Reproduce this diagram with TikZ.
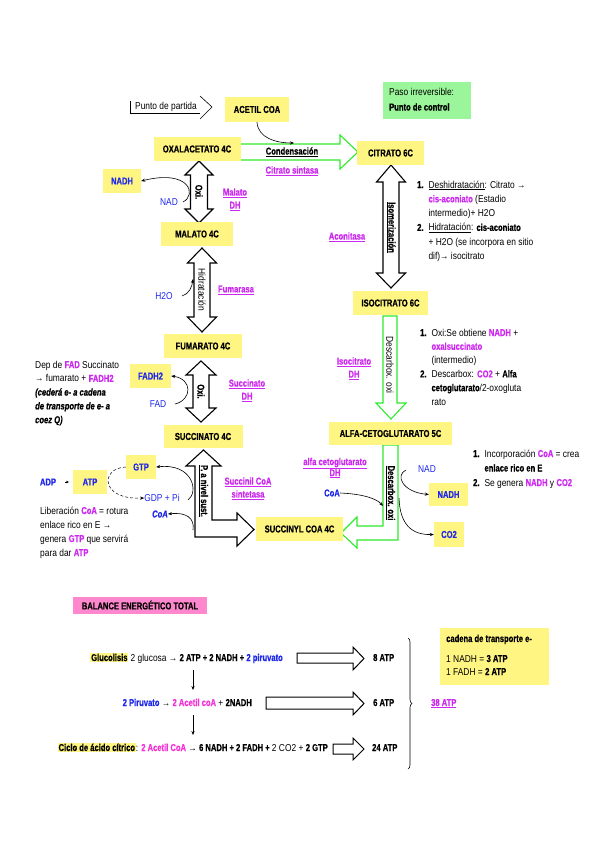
\documentclass[tikz,border=0pt]{standalone}
\usepackage{fontspec}
\setmainfont{Liberation Sans}[FakeStretch=0.84, BoldFeatures={FakeStretch=0.76, FakeBold=0.6}, BoldItalicFeatures={FakeStretch=0.76, FakeBold=0.6}]
\usetikzlibrary{arrows.meta,decorations.pathreplacing}
\definecolor{ylw}{RGB}{255,245,130}
\definecolor{grnbox}{RGB}{155,245,155}
\definecolor{grn}{RGB}{45,235,45}
\definecolor{mag}{RGB}{205,40,240}
\definecolor{magb}{RGB}{245,50,215}
\definecolor{blu}{RGB}{30,40,235}
\definecolor{pnk}{RGB}{255,135,205}
\newcommand\mg[1]{\textcolor{mag}{\bfseries #1}}
\newcommand\mgb[1]{\textcolor{magb}{\bfseries #1}}
\newcommand\mgu[1]{\textcolor{mag}{\bfseries\underline{#1}}}
\setlength{\fboxsep}{0.8pt}
\begin{document}
\begin{tikzpicture}[x=1pt,y=-1pt, font=\fontsize{10}{12}\selectfont,
 ybox/.style={fill=ylw, inner sep=0pt, font=\fontsize{10}{12}\selectfont\bfseries},
 bbox/.style={ybox, text=blu},
 lbl/.style={inner sep=0pt},
 two/.style={inner sep=0pt, align=center, font=\fontsize{10}{13}\selectfont},
 blk/.style={inner sep=0pt, anchor=base west},
 fat/.style={draw=black, line width=1.1pt, fill=white, line join=miter},
 gfat/.style={draw=grn, line width=1.1pt, fill=white, line join=miter},
 cur/.style={-{Stealth[length=4pt,width=3.2pt]}, line width=0.6pt},
]
\useasboundingbox[fill=white] (0,0) rectangle (600,848);

% ---------- fat arrows ----------
% condensacion
\draw[gfat] (240,144) -- (340,144) -- (340,135) -- (358,152) -- (340,169) -- (340,160) -- (240,160) -- cycle;
% oxi 1
\draw[fat] (199,161) -- (213,175) -- (207.5,175) -- (207.5,209) -- (213,209) -- (199,223) -- (185,209) -- (190.5,209) -- (190.5,175) -- (185,175) -- cycle;
% hidratacion
\draw[fat] (202,248) -- (216.5,263) -- (210,263) -- (210,317) -- (216.5,317) -- (202,332) -- (187.5,317) -- (194,317) -- (194,263) -- (187.5,263) -- cycle;
% oxi 2
\draw[fat] (201,361) -- (216,375) -- (209,375) -- (209,408) -- (216,408) -- (201,422) -- (186,408) -- (193,408) -- (193,375) -- (186,375) -- cycle;
% isomerizacion
\draw[fat] (391,165) -- (405.5,182) -- (399,182) -- (399,273) -- (405.5,273) -- (391,288) -- (376.5,273) -- (383,273) -- (383,182) -- (376.5,182) -- cycle;
% descarbox 1
\draw[gfat] (383,316) -- (397,316) -- (397,403) -- (406,403) -- (391,419) -- (376,403) -- (383,403) -- cycle;
% descarbox 2 (L)
\draw[gfat] (383,445) -- (398,445) -- (398,540) -- (357,540) -- (357,548) -- (341,533) -- (357,517) -- (357,526) -- (383,526) -- cycle;
% P. a nivel sust. (L double)
\draw[fat] (203.5,450) -- (221,466) -- (212,466) -- (212,520) -- (237,520) -- (237,513) -- (254,529.5) -- (237,546) -- (237,537) -- (195,537) -- (195,466) -- (186,466) -- cycle;

% ---------- boxes ----------
\node[ybox, minimum width=64, minimum height=25] (acetil) at (257,109.5) {ACETIL COA};
\node[ybox, minimum width=87, minimum height=24] (oxal) at (197,149) {OXALACETATO 4C};
\node[ybox, minimum width=67, minimum height=24] (citrato) at (390.5,153) {CITRATO 6C};
\node[ybox, minimum width=72, minimum height=24] (malato) at (197,234) {MALATO 4C};
\node[ybox, minimum width=78, minimum height=24] (fumarato) at (203,346) {FUMARATO 4C};
\node[ybox, minimum width=79, minimum height=23] (succinato) at (203,436.5) {SUCCINATO 4C};
\node[ybox, minimum width=75, minimum height=24] (isocitrato) at (390.5,303) {ISOCITRATO 6C};
\node[ybox, minimum width=123, minimum height=23] (alfa) at (390.5,433.5) {ALFA-CETOGLUTARATO 5C};
\node[ybox, minimum width=87, minimum height=24] (succinyl) at (299.5,529) {SUCCINYL COA 4C};
\node[bbox, minimum width=38, minimum height=24] (nadh1) at (122,181) {NADH};
\node[bbox, minimum width=41, minimum height=24] (fadh2) at (150.5,376) {FADH2};
\node[bbox, minimum width=30, minimum height=24] (gtp) at (141,467) {GTP};
\node[bbox, minimum width=34, minimum height=24] (atp) at (90,482) {ATP};
\node[bbox, minimum width=39, minimum height=23] (nadh2) at (448.5,494.5) {NADH};
\node[bbox, minimum width=30, minimum height=25] (co2) at (449,534.5) {CO2};

% paso irreversible
\fill[grnbox] (383,82) rectangle (471,119);
\node[blk] (paso1) at (389,96) {Paso irreversible:};
\node[blk, font=\fontsize{10}{12}\selectfont\bfseries] (paso2) at (389,110.5) {Punto de control};

% punto de partida
\node[lbl] (partida) at (166,106.5) {Punto de partida};
\draw[line width=0.6pt] (130.5,101) -- (130.5,113) -- (200,113);
\draw[line width=0.6pt] (200,96) -- (212,107) -- (200,119);

% ---------- arrow texts ----------
\node[lbl, font=\fontsize{10}{12}\selectfont\bfseries] (cond) at (292,152) {\underline{Condensación}};
\node[lbl] (csint) at (292,171) {\mgu{Citrato sintasa}};
\node[lbl, rotate=-90, font=\fontsize{10}{12}\selectfont\bfseries] (oxi1) at (199,192) {Oxi.};
\node[lbl, rotate=-90] (hid) at (202,290) {Hidratación};
\node[lbl, rotate=-90, font=\fontsize{10}{12}\selectfont\bfseries] (oxi2) at (201,391.5) {Oxi.};
\node[lbl, rotate=-90, font=\fontsize{10}{12}\selectfont\bfseries] (iso) at (391,227.5) {\underline{Isomerización}};
\node[lbl, rotate=-90] (desc1) at (390,365) {Descarbox. oxi};
\node[lbl, rotate=-90, font=\fontsize{10}{12}\selectfont\bfseries] (desc2) at (390.5,493) {\underline{Descarbox. oxi}};
\node[lbl, rotate=-90, font=\fontsize{10}{12}\selectfont\bfseries] (pniv) at (203.5,491) {\underline{P. a nivel sust.}};

% enzymes
\node[two] (malatodh) at (235,199.5) {\mgu{Malato}\\\mgu{DH}};
\node[lbl] (fumarasa) at (236,290) {\mgu{Fumarasa}};
\node[two] (succdh) at (247,390.5) {\mgu{Succinato}\\\mgu{DH}};
\node[lbl] (aconitasa) at (347,237) {\mgu{Aconitasa}};
\node[two] (isodh) at (354,368.5) {\mgu{Isocitrato}\\\mgu{DH}};
\node[two, font=\fontsize{10}{11}\selectfont] (alfadh) at (335,468) {\mgu{alfa cetoglutarato}\\\mgu{DH}};
\node[two] (sccoa) at (248,488.5) {\mgu{Succinil CoA}\\\mgu{sintetasa}};

% small blue labels
\node[lbl, text=blu] (nad1) at (169,202) {NAD};
\node[lbl, text=blu] (h2o) at (164,296) {H2O};
\node[lbl, text=blu] (fad) at (158,404) {FAD};
\node[lbl, text=blu, font=\fontsize{10}{12}\selectfont\bfseries] (adp) at (48,482) {ADP};
\node[lbl, text=blu] (gdp) at (162,498) {GDP + Pi};
\node[lbl, text=blu, font=\fontsize{10}{12}\selectfont\bfseries\itshape] (coa1) at (160,514) {CoA};
\node[lbl, text=blu, font=\fontsize{10}{12}\selectfont\bfseries] (coa2) at (332,493) {CoA};
\node[lbl, text=blu] (nad2) at (427,469) {NAD};

% ---------- curved arrows ----------
\draw[cur] (acetil.south) .. controls (258,138) and (276,143) .. (294,143);
\draw[cur] (183,202) .. controls (197,195) and (190,169) .. (nadh1.east);
\draw[cur] (182,296) .. controls (189,294) and (192,287) .. (193,279);
\draw[cur] (175,404) .. controls (192,400) and (193,379) .. (fadh2.east);
\coordinate (adpa) at (65,482);
\draw[-{Stealth[length=3pt,width=2.6pt]}, line width=0.4pt] (adpa) -- ++(4,0);
\draw[cur, densely dashed, line width=0.5pt] (gtp.west) .. controls (100,468) and (100,500) .. (gdp.west);
\draw[cur] (188,500) .. controls (199,492) and (193,463) .. (gtp.east);
\draw[cur] (193,530) .. controls (195,518) and (186,512) .. (coa1.east);
\draw[cur] (coa2.east) .. controls (364,494) and (377,499) .. (383,506);
\draw[cur] (406,470) .. controls (395,475) and (402,492) .. (nadh2.west);
\draw[cur] (399,498) .. controls (400,525) and (412,535) .. (co2.west);

% ---------- text blocks ----------
\node[blk] (blk1) at (417,188) {\fontsize{10}{14.3}\selectfont\begin{tabular}[t]{@{}l@{\hspace{5pt}}l@{}}
\textbf{1.} & \underline{Deshidratación}: Citrato →\\
 & \mg{cis-aconiato} (Estadio\\
 & intermedio)+ H2O\\
\textbf{2.} & \underline{Hidratación}: \textbf{cis-aconiato}\\
 & + H2O (se incorpora en sitio\\
 & dif)→ isocitrato
\end{tabular}};

\node[blk] (blk2) at (420,336) {\fontsize{10}{13.8}\selectfont\begin{tabular}[t]{@{}l@{\hspace{5pt}}l@{}}
\textbf{1.} & Oxi:Se obtiene \mg{NADH} +\\
 & \mg{oxalsuccinato}\\
 & (intermedio)\\
\textbf{2.} & Descarbox: \mg{CO2} + \textbf{Alfa}\\
 & \textbf{cetoglutarato}/2-oxogluta\\
 & rato
\end{tabular}};

\node[blk] (blk3) at (473,457) {\fontsize{10}{14.5}\selectfont\begin{tabular}[t]{@{}l@{\hspace{5pt}}l@{}}
\textbf{1.} & Incorporación \mg{CoA} = crea\\
 & \textbf{enlace rico en E}\\
\textbf{2.} & Se genera \mg{NADH} y \mg{CO2}
\end{tabular}};

\node[blk] (blkfad) at (35,368) {\fontsize{10}{13.8}\selectfont\begin{tabular}[t]{@{}l@{}}
Dep de \mg{FAD} Succinato\\
→ fumarato + \mg{FADH2}\\
{\bfseries\itshape (cederá e- a cadena}\\
{\bfseries\itshape de transporte de e- a}\\
{\bfseries\itshape coez Q)}
\end{tabular}};

\node[blk] (blklib) at (40,514) {\fontsize{10}{14}\selectfont\begin{tabular}[t]{@{}l@{}}
Liberación \mg{CoA} = rotura\\
enlace rico en E →\\
genera \mg{GTP} que servirá\\
para dar \mg{ATP}
\end{tabular}};

% ---------- balance ----------
\node[lbl, fill=pnk, minimum width=134, minimum height=17, font=\fontsize{10}{12}\selectfont\bfseries] (bal) at (140,605) {BALANCE ENERGÉTICO TOTAL};

\node[lbl, anchor=base east] (row1) at (283,661) {\colorbox{ylw}{\textbf{Glucolisis}} 2 glucosa → \textbf{2 ATP + 2 NADH +} \textcolor{blu}{\textbf{2 piruvato}}};
\node[lbl, anchor=base east] (row2) at (252,706) {\textcolor{blu}{\textbf{2 Piruvato}} → \mgb{2 Acetil coA} + \textbf{2NADH}};
\node[lbl, anchor=base east] (row3) at (328,751) {\colorbox{ylw}{\textbf{Ciclo de ácido cítrico}}: \mgb{2 Acetil CoA} → \textbf{6 NADH + 2 FADH +} 2 CO2 + \textbf{2 GTP}};

\draw[fat, line width=1pt] (297,653) -- (353,653) -- (353,647) -- (364,658.5) -- (353,670) -- (353,663) -- (297,663) -- cycle;
\draw[fat, line width=1pt] (266,697) -- (353,697) -- (353,692) -- (364,703.5) -- (353,715) -- (353,709) -- (266,709) -- cycle;
\draw[fat, line width=1pt] (333,744) -- (353,744) -- (353,738) -- (364,749) -- (353,760) -- (353,754) -- (333,754) -- cycle;

\node[blk, font=\fontsize{10}{12}\selectfont\bfseries] (atp8) at (373,661) {8 ATP};
\node[blk, font=\fontsize{10}{12}\selectfont\bfseries] (atp6) at (373,706) {6 ATP};
\node[blk, font=\fontsize{10}{12}\selectfont\bfseries] (atp24) at (372,751) {24 ATP};

\coordinate (d1a) at (193,670); \coordinate (d1b) at (193,690);
\coordinate (d2a) at (193,715); \coordinate (d2b) at (193,735);
\draw[cur, line width=0.5pt] (d1a) -- (d1b);
\draw[cur, line width=0.5pt] (d2a) -- (d2b);

\coordinate (bra) at (408,638); \coordinate (brb) at (408,769);
\draw[decorate, decoration={brace, amplitude=4pt}, line width=0.6pt] (bra) -- (brb);
\node[blk] (atp38) at (431,706) {\mgu{38 ATP}};

\fill[ylw] (440,628) rectangle (549,685);
\node[blk, font=\fontsize{10}{12}\selectfont\bfseries] (cad) at (446,642) {cadena de transporte e-};
\node[blk] (cad1) at (446,662) {1 NADH = \textbf{3 ATP}};
\node[blk] (cad2) at (446,675) {1 FADH = \textbf{2 ATP}};
\end{tikzpicture}
\end{document}
